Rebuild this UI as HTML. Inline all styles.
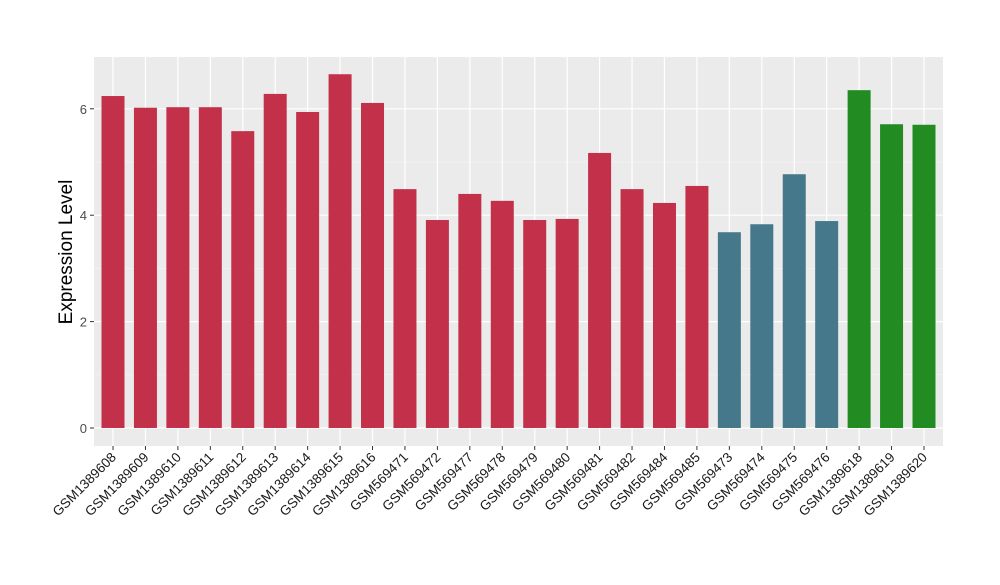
<!DOCTYPE html>
<html><head><meta charset="utf-8"><style>
body{margin:0;background:#fff;font-family:"Liberation Sans",sans-serif;}
</style></head><body>
<svg width="1000" height="580" xmlns="http://www.w3.org/2000/svg">
<rect x="94" y="57" width="849" height="389" fill="#EBEBEB"/>
<g id="grid"></g><g id="bars"></g><g id="yaxis"></g><g id="xaxis"></g>
<text x="72" y="252" font-size="19" text-anchor="middle" transform="rotate(-90 72 252)" fill="#000">Expression Level</text>
</svg>
<script>
const categories=["GSM1389608","GSM1389609","GSM1389610","GSM1389611","GSM1389612","GSM1389613","GSM1389614","GSM1389615","GSM1389616","GSM569471","GSM569472","GSM569477","GSM569478","GSM569479","GSM569480","GSM569481","GSM569482","GSM569484","GSM569485","GSM569473","GSM569474","GSM569475","GSM569476","GSM1389618","GSM1389619","GSM1389620"];
const values=[6.24,6.02,6.03,6.03,5.58,6.28,5.94,6.65,6.11,4.49,3.91,4.40,4.27,3.91,3.93,5.17,4.49,4.23,4.55,3.68,3.83,4.77,3.89,6.35,5.71,5.70];
const groups=["a","a","a","a","a","a","a","a","a","a","a","a","a","a","a","a","a","a","a","b","b","b","b","c","c","c"];
const yTicks=[0,2,4,6];
const colors={a:"#C3304A",b:"#44788A",c:"#228B22"};
const NS="http://www.w3.org/2000/svg";
const y=v=>428-v*53.2;
const x=i=>113+i*32.44;
function mk(t,a,p){const e=document.createElementNS(NS,t);for(const k in a)e.setAttribute(k,a[k]);p.appendChild(e);return e;}
const grid=document.getElementById('grid'),bars=document.getElementById('bars'),ya=document.getElementById('yaxis'),xa=document.getElementById('xaxis');
for(let v=1;v<7;v+=2){const l=mk('line',{x1:94,x2:943,y1:y(v),y2:y(v),stroke:'#F5F5F5','stroke-width':0.6},grid);

}
yTicks.forEach(v=>{const l=mk('line',{x1:94,x2:943,y1:y(v),y2:y(v),stroke:'#fff','stroke-width':1.2},grid);


mk('line',{x1:90,x2:94,y1:y(v),y2:y(v),stroke:'#333'},ya);
const t=mk('text',{x:87,y:y(v)+5,'font-size':13,'text-anchor':'end',fill:'#4D4D4D'},ya);t.textContent=v;

});
categories.forEach((c,i)=>{const l=mk('line',{x1:x(i),x2:x(i),y1:57,y2:446,stroke:'#fff','stroke-width':1.2},grid);


const r=mk('rect',{x:x(i)-11.5,y:y(values[i]),width:23,height:y(0)-y(values[i]),fill:colors[groups[i]]},bars);


mk('line',{x1:x(i),x2:x(i),y1:446,y2:450,stroke:'#333'},xa);
const t=mk('text',{x:x(i)+4,y:458,'font-size':13.5,'text-anchor':'end',fill:'#1A1A1A',transform:`rotate(-45 ${x(i)+4} 458)`},xa);t.textContent=c;

});
</script>
</body></html>
